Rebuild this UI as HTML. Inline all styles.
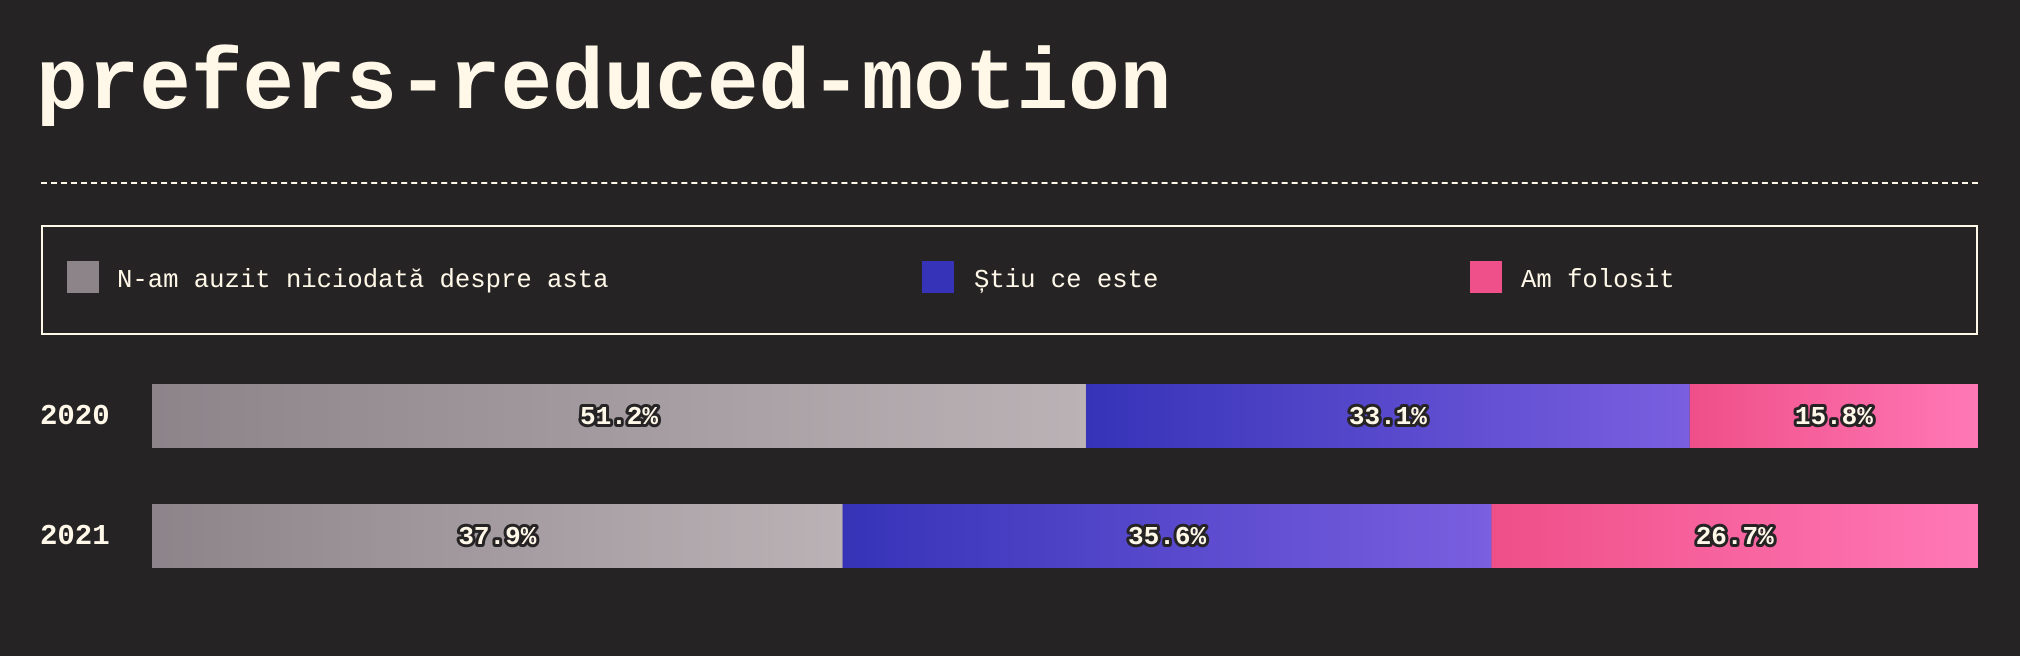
<!DOCTYPE html>
<html><head><meta charset="utf-8"><style>
html,body{margin:0;padding:0;background:#262325;width:2020px;height:656px;overflow:hidden;}
#title{position:absolute;left:36px;top:30px;margin:0;font:bold 86px "Liberation Mono",monospace;color:#fff8e8;line-height:110px;letter-spacing:0px;}
#dash{position:absolute;left:41px;top:182px;width:1937px;border-top:2px dashed #fff8e8;}
#legend{position:absolute;left:41px;top:225px;width:1933px;height:106px;border:2px solid #fff8e8;}
.sw{position:absolute;top:34px;width:32px;height:32px;}
.lt{position:absolute;top:34px;font:25.6px "Liberation Mono",monospace;color:#fff8e8;line-height:40px;white-space:nowrap;}
svg{position:absolute;left:0;top:0;}
</style></head><body>
<h1 id="title">prefers-reduced-motion</h1>
<div id="dash"></div>
<div id="legend">
 <div class="sw" style="left:24px;background:#8c8489"></div>
 <div class="lt" style="left:74px">N-am auzit niciodată despre asta</div>
 <div class="sw" style="left:879px;background:#3633b8"></div>
 <div class="lt" style="left:931px">Știu ce este</div>
 <div class="sw" style="left:1427px;background:#f0508a"></div>
 <div class="lt" style="left:1478px">Am folosit</div>
</div>
<svg id="chart" width="2020" height="656">
<defs>
<linearGradient id="g0" x1="0" x2="1"><stop offset="0" stop-color="#8c8489"/><stop offset="1" stop-color="#bab2b5"/></linearGradient>
<linearGradient id="g1" x1="0" x2="1"><stop offset="0" stop-color="#3633b8"/><stop offset="1" stop-color="#7a5fe0"/></linearGradient>
<linearGradient id="g2" x1="0" x2="1"><stop offset="0" stop-color="#ef4f88"/><stop offset="1" stop-color="#ff78b6"/></linearGradient>
</defs>
</svg>
<script>
const years = ["2020", "2021"];
const neverHeard = [51.2, 37.9];
const knowIt = [33.1, 35.6];
const used = [15.8, 26.7];
const series = [neverHeard, knowIt, used];
const seriesNames = ["never-heard", "know", "used"];

const svg = document.getElementById('chart');
const NS = 'http://www.w3.org/2000/svg';
const x0 = 152, x1 = 1978, rowTop = 384, rowStep = 120, barH = 64;
years.forEach((yr, i) => {
  const total = series.reduce((s, a) => s + a[i], 0);
  const xs = v => (v / total) * (x1 - x0);
  const y = rowTop + i * rowStep;
  const lab = document.createElementNS(NS, 'text');
  
  
  lab.setAttribute('x', 40); lab.setAttribute('y', y + barH / 2 + 8);
  lab.setAttribute('fill', '#fff8e8');
  lab.setAttribute('style', 'font:bold 29px "Liberation Mono",monospace');
  lab.textContent = yr;
  svg.appendChild(lab);
  let cx = x0;
  series.forEach((arr, s) => {
    const w = xs(arr[i]);
    const r = document.createElementNS(NS, 'rect');
    
    
    r.setAttribute('x', cx); r.setAttribute('y', y);
    r.setAttribute('width', w); r.setAttribute('height', barH);
    r.setAttribute('fill', 'url(#g' + s + ')');
    svg.appendChild(r);
    const t = document.createElementNS(NS, 'text');
    
    
    t.setAttribute('x', cx + w / 2); t.setAttribute('y', y + barH / 2 + 8);
    t.setAttribute('text-anchor', 'middle');
    t.setAttribute('fill', '#fff8e8');
    t.setAttribute('stroke', '#262325'); t.setAttribute('stroke-width', '6');
    t.setAttribute('paint-order', 'stroke');
    t.setAttribute('stroke-linejoin', 'round');
    t.setAttribute('style', 'font:bold 26px "Liberation Mono",monospace');
    t.textContent = arr[i].toFixed(1) + '%';
    svg.appendChild(t);
    cx += w;
  });
});
</script>
</body></html>
